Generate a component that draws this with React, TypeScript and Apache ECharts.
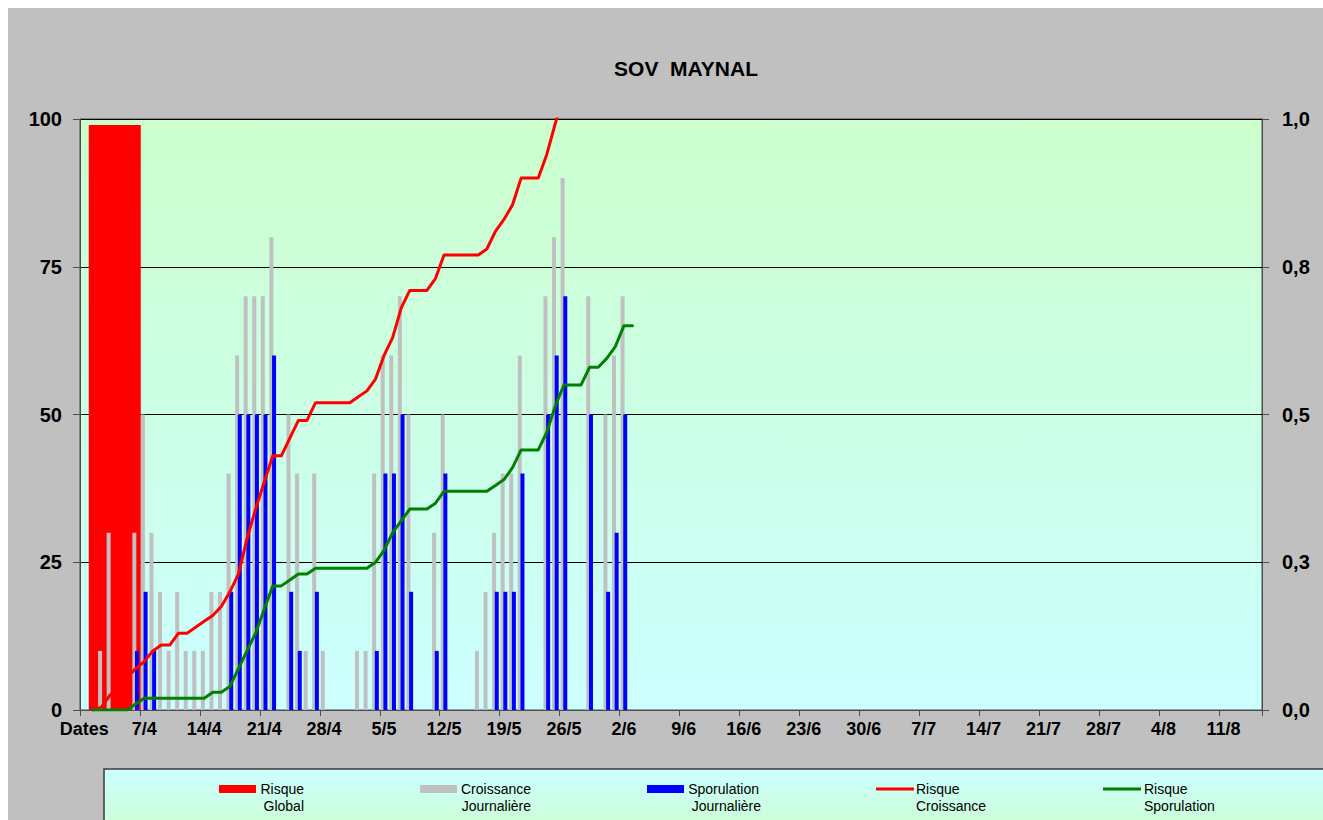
import React, { useEffect, useRef } from "react";
import * as echarts from "echarts";

const FONT = "'Liberation Sans', Arial, sans-serif";

// Category labels: first slot is the "Dates" header, then one slot per day (1/4 .. 15/8)
const monthDays: [number, number][] = [[4, 30], [5, 31], [6, 30], [7, 31], [8, 15]];
const dates: string[] = ["Dates"];
monthDays.forEach(([m, n]) => {
  for (let d = 1; d <= n; d++) dates.push(`${d}/${m}`);
});

// Risque Global (single wide bar, own slot axis)
const globalSlots: string[] = ["Global", "", "", "", "", "", "", "", "", "", "", "", "", "", "", "", ""];
const risqueGlobal: (number | null)[] = [99];

// Croissance Journalière (grey bars), index 0 = "Dates"
const croissance: (number | null)[] = [
  null, null, 10, 30, null, null, 30, 50, 30, 20, 10, 20, 10, 10, 10, 20, 20, 40, 60, 70,
  70, 70, 80, null, 50, 40, 10, 40, 10, null, null, null, 10, 10, 40, 60, 60, 70, 50, null,
  null, 30, 50, null, null, null, 10, 20, 30, 40, 40, 60, null, null, 70, 80, 90, null, null, 70,
  null, 50, 60, 70,
];

// Sporulation Journalière (blue bars)
const sporulation: (number | null)[] = [
  null, null, null, null, null, null, 10, 20, 10, null, null, null, null, null, null, null, null, 20, 50, 50,
  50, 50, 60, null, 20, 10, null, 20, null, null, null, null, null, null, 10, 40, 40, 50, 20, null,
  null, 10, 40, null, null, null, null, null, 20, 20, 20, 40, null, null, 50, 60, 70, null, null, 50,
  null, 20, 30, 50,
];

// Risque Croissance (red line, right axis 0..1)
const risqueCroissance: (number | null)[] = [
  null, 0, 0.005, 0.025, 0.04, 0.055, 0.07, 0.082, 0.1, 0.11, 0.11, 0.13, 0.13, 0.14, 0.15, 0.16, 0.175, 0.2, 0.23, 0.29,
  0.34, 0.385, 0.43, 0.43, 0.46, 0.49, 0.49, 0.52, 0.52, 0.52, 0.52, 0.52, 0.53, 0.54, 0.56, 0.6, 0.63, 0.68, 0.71, 0.71,
  0.71, 0.73, 0.77, 0.77, 0.77, 0.77, 0.77, 0.78, 0.81, 0.83, 0.855, 0.9, 0.9, 0.9, 0.94, 0.993, 1.04,
];

// Risque Sporulation (green line, right axis 0..1)
const risqueSporulation: (number | null)[] = [
  null, 0, 0, 0, 0, 0, 0.01, 0.02, 0.02, 0.02, 0.02, 0.02, 0.02, 0.02, 0.02, 0.03, 0.03, 0.04, 0.07, 0.1,
  0.13, 0.17, 0.21, 0.21, 0.22, 0.23, 0.23, 0.24, 0.24, 0.24, 0.24, 0.24, 0.24, 0.24, 0.25, 0.27, 0.3, 0.32, 0.34, 0.34,
  0.34, 0.35, 0.37, 0.37, 0.37, 0.37, 0.37, 0.37, 0.38, 0.39, 0.41, 0.44, 0.44, 0.44, 0.47, 0.515, 0.55, 0.55, 0.55, 0.58,
  0.58, 0.595, 0.615, 0.65, 0.65,
];

const leftTicks = { min: 0, max: 100, interval: 25 };
const rightTicks = { min: 0, max: 1, interval: 0.25 };

export default function App() {
  const ref = useRef<HTMLDivElement>(null);
  useEffect(() => {
    const chart = echarts.init(ref.current!, undefined, { renderer: "svg" });
    const axisGrey = "#4d4d4d";
    const legendText = (text: string, x: number, y: number, align: string) => ({
      type: "text",
      x,
      y,
      style: { text, fill: "#000", font: `14px ${FONT}`, textAlign: align, textVerticalAlign: "middle" },
      z: 102,
    });
    const option: any = {
      animation: false,
      backgroundColor: "#C0C0C0",
      textStyle: { fontFamily: FONT },
      title: {
        text: "SOV  MAYNAL",
        left: 673,
        top: 45,
        textAlign: "center",
        textStyle: { fontSize: 21, fontWeight: "bold", color: "#000", fontFamily: FONT },
      },
      grid: {
        left: 72,
        top: 111,
        width: 1182,
        height: 591,
        show: true,
        borderColor: axisGrey,
        borderWidth: 1,
        backgroundColor: {
          type: "linear", x: 0, y: 0, x2: 0, y2: 1,
          colorStops: [
            { offset: 0, color: "#CCFFCC" },
            { offset: 1, color: "#CCFFFF" },
          ],
        },
      },
      xAxis: [
        {
          type: "category",
          data: dates,
          boundaryGap: true,
          axisLine: { show: true, lineStyle: { color: axisGrey, width: 1 } },
          axisTick: { show: true, interval: 6, length: 6, lineStyle: { color: axisGrey } },
          axisLabel: {
            interval: 6, margin: 10, fontSize: 18, fontWeight: "bold", color: "#000", fontFamily: FONT,
          },
          splitLine: { show: false },
        },
        { type: "category", data: globalSlots, show: false },
      ],
      yAxis: [
        {
          type: "value",
          position: "left",
          ...leftTicks,
          axisLine: { show: true, lineStyle: { color: axisGrey } },
          axisTick: { show: true, length: 7, lineStyle: { color: axisGrey } },
          axisLabel: { margin: 18, fontSize: 20, fontWeight: "bold", color: "#000", fontFamily: FONT },
          splitLine: { show: true, lineStyle: { color: "#000", width: 1 } },
        },
        {
          type: "value",
          position: "right",
          ...rightTicks,
          axisLine: { show: true, lineStyle: { color: axisGrey } },
          axisTick: { show: true, length: 7, lineStyle: { color: axisGrey } },
          axisLabel: {
            margin: 20, fontSize: 20, fontWeight: "bold", color: "#000", fontFamily: FONT,
            formatter: (v: number) => (Math.round(v * 10) / 10).toFixed(1).replace(".", ","),
          },
          splitLine: { show: false },
        },
      ],
      series: [
        {
          name: "Risque Global",
          type: "bar",
          xAxisIndex: 1,
          yAxisIndex: 0,
          data: risqueGlobal,
          barWidth: 52,
          itemStyle: { color: "#FF0000" },
          z: 2,
        },
        {
          name: "Croissance Journalière",
          type: "bar",
          xAxisIndex: 0,
          yAxisIndex: 0,
          data: croissance,
          barWidth: 4,
          barGap: "-33%",
          itemStyle: { color: "#C0C0C0" },
          z: 3,
        },
        {
          name: "Sporulation Journalière",
          type: "bar",
          xAxisIndex: 0,
          yAxisIndex: 0,
          data: sporulation,
          barWidth: 4,
          barGap: "-33%",
          itemStyle: { color: "#0000FF" },
          z: 4,
        },
        {
          name: "Risque Croissance",
          type: "line",
          xAxisIndex: 0,
          yAxisIndex: 1,
          data: risqueCroissance,
          symbol: "none",
          clip: true,
          lineStyle: { color: "#FF0000", width: 3, cap: "round", join: "round" },
          itemStyle: { color: "#FF0000" },
          z: 5,
        },
        {
          name: "Risque Sporulation",
          type: "line",
          xAxisIndex: 0,
          yAxisIndex: 1,
          data: risqueSporulation,
          symbol: "none",
          clip: true,
          lineStyle: { color: "#008000", width: 3, cap: "round", join: "round" },
          itemStyle: { color: "#008000" },
          z: 6,
        },
      ],
      graphic: [
        {
          type: "rect",
          shape: { x: 96, y: 761, width: 1240, height: 70 },
          style: {
            fill: {
              type: "linear", x: 0, y: 0, x2: 0, y2: 1,
              colorStops: [
                { offset: 0, color: "#CCFFFF" },
                { offset: 1, color: "#CCFFCC" },
              ],
            },
            stroke: "#3a3a3a",
            lineWidth: 1.5,
          },
          z: 100,
        },
        { type: "rect", shape: { x: 211, y: 777, width: 37, height: 8 }, style: { fill: "#FF0000" }, z: 101 },
        { type: "rect", shape: { x: 412, y: 777, width: 37, height: 8 }, style: { fill: "#C0C0C0" }, z: 101 },
        { type: "rect", shape: { x: 639, y: 777, width: 37, height: 8 }, style: { fill: "#0000FF" }, z: 101 },
        {
          type: "line", shape: { x1: 868, y1: 781, x2: 906, y2: 781 },
          style: { stroke: "#FF0000", lineWidth: 3 }, z: 101,
        },
        {
          type: "line", shape: { x1: 1095, y1: 781, x2: 1133, y2: 781 },
          style: { stroke: "#008000", lineWidth: 3 }, z: 101,
        },
        legendText("Risque", 296, 781, "right"),
        legendText("Global", 296, 798, "right"),
        legendText("Croissance", 523, 781, "right"),
        legendText("Journalière", 523, 798, "right"),
        legendText("Sporulation", 751, 781, "right"),
        legendText("Journalière", 753, 798, "right"),
        legendText("Risque", 908, 781, "left"),
        legendText("Croissance", 908, 798, "left"),
        legendText("Risque", 1136, 781, "left"),
        legendText("Sporulation", 1136, 798, "left"),
      ],
    };
    chart.setOption(option);
    return () => chart.dispose();
  }, []);
  return (
    <div
      ref={ref}
      style={{ position: "fixed", left: 8, top: 8, width: 1315, height: 812 }}
    />
  );
}
